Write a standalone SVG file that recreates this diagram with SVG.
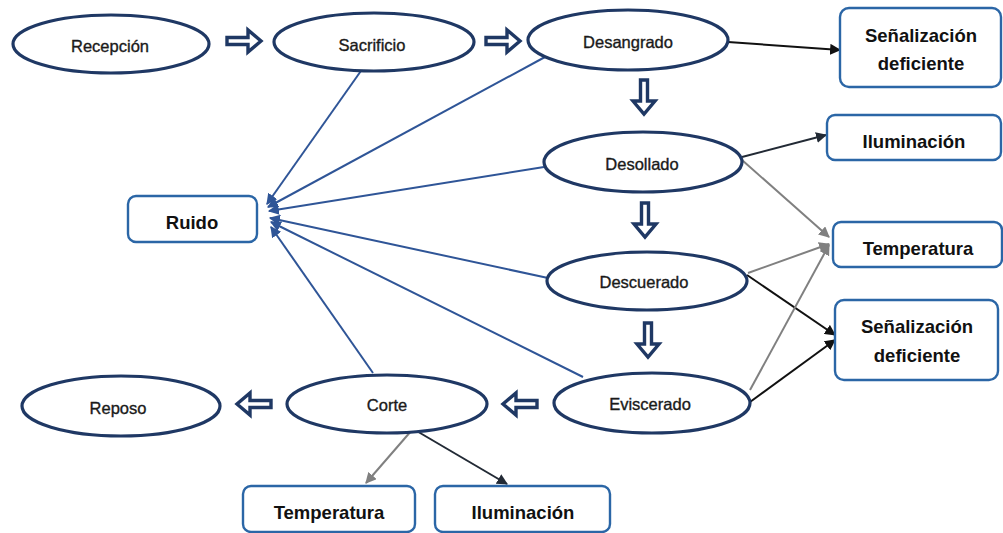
<svg xmlns="http://www.w3.org/2000/svg" xmlns:xlink="http://www.w3.org/1999/xlink" width="1003" height="533" viewBox="0 0 1003 533">
<defs>
<style>
.step{fill:#fff;stroke:#1F3864;stroke-width:3.2}
.box{fill:#fff;stroke:#2B66A6;stroke-width:2.4}
.lbl{font-family:"Liberation Sans",Arial,sans-serif;font-size:16.5px;fill:#1a1a1a;stroke:#1a1a1a;stroke-width:0.35;text-anchor:middle}
.blbl{font-family:"Liberation Sans",Arial,sans-serif;font-size:18.5px;font-weight:bold;fill:#111;text-anchor:middle}
.blk{fill:#fff;stroke:#1F3864;stroke-width:3.4;stroke-linejoin:miter}
.cb{stroke:#2F5597;stroke-width:2;fill:none;marker-end:url(#mb)}
.cg{stroke:#808080;stroke-width:2;fill:none;marker-end:url(#mg)}
.ck{stroke:#111;stroke-width:2;fill:none;marker-end:url(#mk)}
.cd{stroke:#222A35;stroke-width:2;fill:none;marker-end:url(#md)}
</style>
<marker id="mb" viewBox="0 0 10 10" refX="9" refY="5" markerWidth="11" markerHeight="11" markerUnits="userSpaceOnUse" orient="auto"><path d="M0,0 L10,5 L0,10 Z" fill="#2F5597"/></marker>
<marker id="mg" viewBox="0 0 10 10" refX="9" refY="5" markerWidth="11" markerHeight="11" markerUnits="userSpaceOnUse" orient="auto"><path d="M0,0 L10,5 L0,10 Z" fill="#808080"/></marker>
<marker id="mk" viewBox="0 0 10 10" refX="9" refY="5" markerWidth="11" markerHeight="11" markerUnits="userSpaceOnUse" orient="auto"><path d="M0,0 L10,5 L0,10 Z" fill="#111"/></marker>
<marker id="md" viewBox="0 0 10 10" refX="9" refY="5" markerWidth="11" markerHeight="11" markerUnits="userSpaceOnUse" orient="auto"><path d="M0,0 L10,5 L0,10 Z" fill="#222A35"/></marker>
<path id="blkarrow" class="blk" d="M-17,-3.5 L4,-3.5 L4,-11 L17,0 L4,11 L4,3.5 L-17,3.5 Z"/>
</defs>
<rect width="1003" height="533" fill="#fff"/>

<g id="connectors">
<line class="cb" x1="363" y1="68" x2="267" y2="204"/>
<line class="cb" x1="545" y1="57" x2="268" y2="207"/>
<line class="cb" x1="544" y1="167" x2="269" y2="211"/>
<line class="cb" x1="548" y1="278" x2="270" y2="218"/>
<line class="cb" x1="583" y1="377" x2="271" y2="222"/>
<line class="cb" x1="373" y1="373" x2="271" y2="227"/>
<line class="ck" x1="728" y1="42" x2="840" y2="50"/>
<line class="cd" x1="742" y1="157" x2="826" y2="135"/>
<line class="cg" x1="742" y1="160" x2="829" y2="237"/>
<line class="cg" x1="748" y1="273" x2="829" y2="244"/>
<line class="ck" x1="747" y1="275" x2="835" y2="335"/>
<line class="cg" x1="750" y1="390" x2="829" y2="245"/>
<line class="ck" x1="750" y1="402" x2="835" y2="340"/>
<line class="cg" x1="412" y1="430" x2="366" y2="483"/>
<line class="cd" x1="415" y1="430" x2="507" y2="484"/>
<use href="#blkarrow" transform="translate(244,41)"/>
<use href="#blkarrow" transform="translate(503,41)"/>
<use href="#blkarrow" transform="translate(644,97) rotate(90)"/>
<use href="#blkarrow" transform="translate(645,220) rotate(90)"/>
<use href="#blkarrow" transform="translate(648,340) rotate(90)"/>
<use href="#blkarrow" transform="translate(520,404) rotate(180)"/>
<use href="#blkarrow" transform="translate(254,404) rotate(180)"/>
</g>

<g id="recepcion"><ellipse class="step" cx="111" cy="44" rx="98" ry="29"/><text class="lbl" x="110" y="52">Recepción</text></g>
<g id="sacrificio"><ellipse class="step" cx="374" cy="42" rx="100" ry="29"/><text class="lbl" x="372" y="51">Sacrificio</text></g>
<g id="desangrado"><ellipse class="step" cx="628" cy="40" rx="100" ry="30"/><text class="lbl" x="628" y="48">Desangrado</text></g>
<g id="desollado"><ellipse class="step" cx="643" cy="162" rx="99" ry="30"/><text class="lbl" x="642" y="170">Desollado</text></g>
<g id="descuerado"><ellipse class="step" cx="647" cy="281" rx="100" ry="29"/><text class="lbl" x="644" y="288">Descuerado</text></g>
<g id="eviscerado"><ellipse class="step" cx="652" cy="403" rx="98" ry="30"/><text class="lbl" x="650" y="410">Eviscerado</text></g>
<g id="corte"><ellipse class="step" cx="387" cy="404" rx="100" ry="29"/><text class="lbl" x="387" y="411">Corte</text></g>
<g id="reposo"><ellipse class="step" cx="121" cy="406" rx="99" ry="30"/><text class="lbl" x="118" y="414">Reposo</text></g>

<g id="senalizacion1"><rect class="box" x="840" y="8" width="161" height="79" rx="9"/><text class="blbl" x="921" y="42">Señalización</text><text class="blbl" x="921" y="70">deficiente</text></g>
<g id="iluminacion1"><rect class="box" x="827" y="115" width="174" height="45" rx="8"/><text class="blbl" x="914" y="148">Iluminación</text></g>
<g id="temperatura1"><rect class="box" x="833" y="222" width="169" height="45" rx="8"/><text class="blbl" x="918" y="255">Temperatura</text></g>
<g id="senalizacion2"><rect class="box" x="835" y="300" width="163" height="80" rx="9"/><text class="blbl" x="917" y="333">Señalización</text><text class="blbl" x="917" y="362">deficiente</text></g>
<g id="ruido"><rect class="box" x="128" y="196" width="129" height="46" rx="8"/><text class="blbl" x="192" y="229">Ruido</text></g>
<g id="temperatura2"><rect class="box" x="243" y="486" width="172" height="46" rx="8"/><text class="blbl" x="329" y="519">Temperatura</text></g>
<g id="iluminacion2"><rect class="box" x="435" y="486" width="175" height="46" rx="8"/><text class="blbl" x="523" y="519">Iluminación</text></g>
</svg>
